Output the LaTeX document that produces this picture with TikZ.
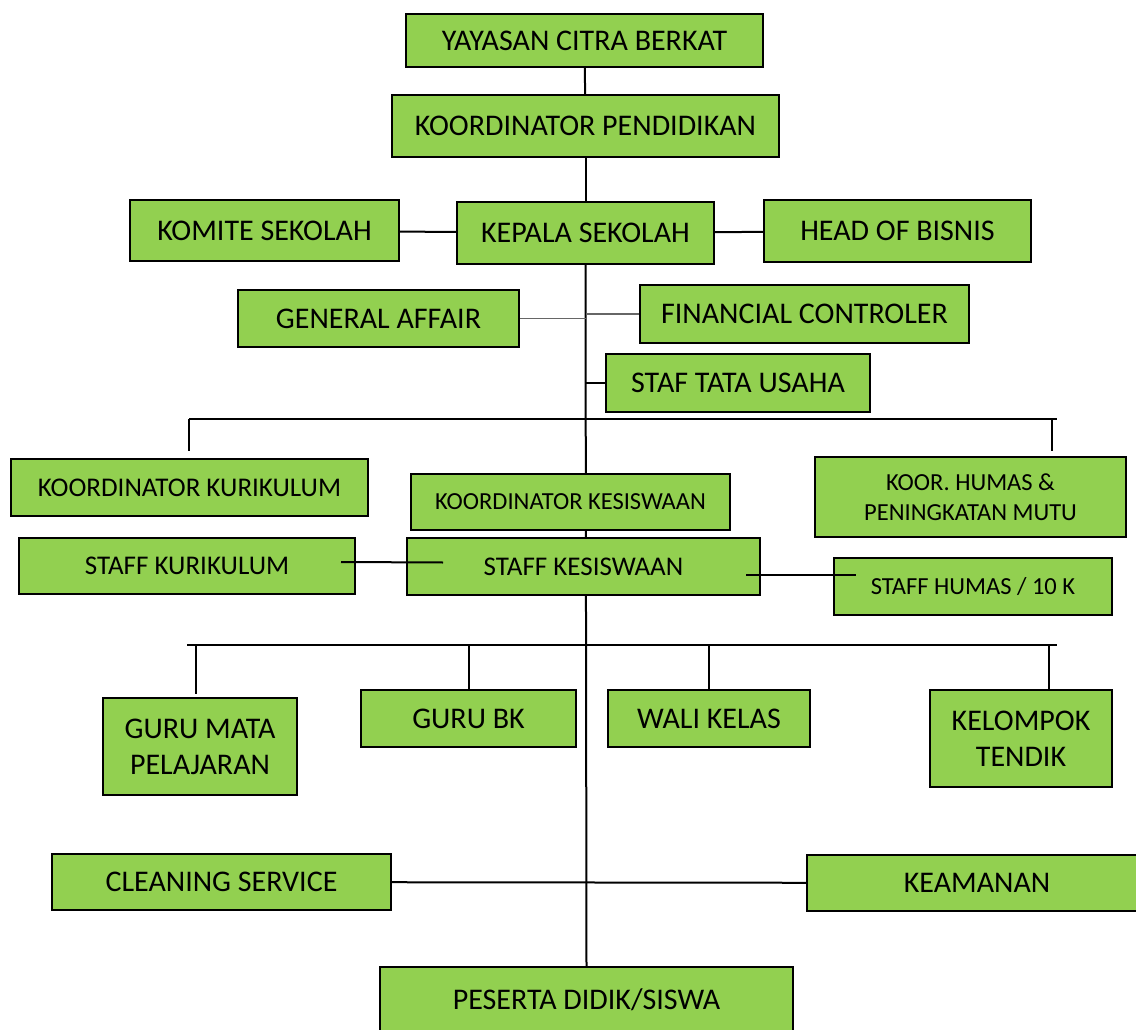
\documentclass[tikz,border=0pt]{standalone}
\usepackage{fontspec}
\setmainfont{Carlito}
\usepackage{tikz}
\usetikzlibrary{positioning,calc,backgrounds}
\definecolor{boxgreen}{HTML}{92D050}
\newcommand{\bigtxt}{\fontsize{30}{36}\selectfont}
\newcommand{\midtxt}{\fontsize{27}{32}\selectfont}
\newcommand{\smalltxt}{\fontsize{24.5}{30}\selectfont}

\begin{document}
\begin{tikzpicture}[
  x=1pt, y=-1pt,
  unit/.style={draw=black, fill=boxgreen, line width=2pt, align=center,
               inner sep=2pt, font=\bigtxt},
  link/.style={draw=black, line width=2pt},
  thin/.style={draw=gray!80!black, line width=1.5pt},
]
\useasboundingbox (0,0) rectangle (1136,1030);

% top of the chart
\node[unit, minimum width=357pt, minimum height=53pt] (yayasan) at (584.5,40.5) {YAYASAN CITRA BERKAT};
\node[unit, minimum width=387pt, minimum height=62pt] (kopend) at (585.5,126) {KOORDINATOR PENDIDIKAN};
\node[unit, minimum width=257pt, minimum height=62pt] (kepsek) at (585.5,233) {KEPALA SEKOLAH};
\node[unit, minimum width=269pt, minimum height=61pt] (komite) at (264.5,230.5) {KOMITE SEKOLAH};
\node[unit, minimum width=267pt, minimum height=62pt] (bisnis) at (897.5,231) {HEAD OF BISNIS};

% staff of the head
\node[unit, minimum width=281pt, minimum height=57pt] (ga) at (378.5,318.5) {GENERAL AFFAIR};
\node[unit, minimum width=329pt, minimum height=58pt] (fc) at (804.5,314) {FINANCIAL CONTROLER};
\node[unit, minimum width=264pt, minimum height=58pt] (tu) at (738,383) {STAF TATA USAHA};

% coordinators
\node[unit, font=\midtxt, minimum width=357pt, minimum height=57pt] (kkur) at (189.5,487.5) {KOORDINATOR KURIKULUM};
\node[unit, font={\fontsize{24.5}{30}\selectfont}, minimum width=319pt, minimum height=56pt] (kkes) at (570.5,502) {KOORDINATOR KESISWAAN};
\node[unit, font=\smalltxt, minimum width=311pt, minimum height=80pt] (khumas) at (970.5,497) {KOOR. HUMAS \&\\PENINGKATAN MUTU};
\node[unit, font=\midtxt, minimum width=336pt, minimum height=56pt] (skur) at (187,566) {STAFF KURIKULUM};
\node[unit, font=\midtxt, minimum width=353pt, minimum height=57pt] (skes) at (583.5,566.5) {STAFF KESISWAAN};
\node[unit, font=\smalltxt, minimum width=278pt, minimum height=57pt] (shumas) at (973,586.5) {STAFF HUMAS / 10 K};

% teachers
\node[unit, minimum width=194pt, minimum height=97pt] (gmp) at (200,746.5) {GURU MATA\\PELAJARAN};
\node[unit, minimum width=215pt, minimum height=57pt] (gbk) at (468.5,718.5) {GURU BK};
\node[unit, minimum width=202pt, minimum height=57pt] (wali) at (709,718.5) {WALI KELAS};
\node[unit, minimum width=182pt, minimum height=97pt] (tendik) at (1021,738.5) {KELOMPOK\\TENDIK};

% support and students
\node[unit, minimum width=339pt, minimum height=56pt] (cleaning) at (221.5,882) {CLEANING SERVICE};
\node[unit, minimum width=340pt, minimum height=56pt] (aman) at (977,883) {KEAMANAN};
\node[unit, minimum width=413pt, minimum height=66pt] (siswa) at (586.5,1000) {PESERTA DIDIK/SISWA};

\coordinate (busA) at (189,419);
\coordinate (busB) at (1057,419);
\coordinate (busC) at (187,645);
\coordinate (busD) at (1057,645);

\begin{scope}[on background layer]
\draw[link] (yayasan) -- (kopend);
\draw[link] (kopend) -- (kepsek);
\draw[link] (komite) -- (kepsek);
\draw[link] (kepsek) -- (bisnis);
\draw[link] (kepsek.south) -- (siswa.north);
\draw[thin] (ga.east) -- (ga.east -| kepsek.south);
\draw[thin] (fc.west) -- (fc.west -| kepsek.south);
\draw[link, line width=1.5pt] (tu.west) -- (tu.west -| kepsek.south);
% upper bus
\draw[link] (busA) -- (busB);
\draw[link, shorten >=7pt] (busA) -- (busA |- kkur.north);
\draw[link, shorten >=5pt] ([xshift=-5pt]busB) -- ([xshift=-5pt]busB |- khumas.north);
% lower bus
\draw[link] (busC) -- (busD);
\draw[link, shorten >=3pt] ([xshift=9pt]busC) -- ([xshift=9pt]busC |- gmp.north);
\draw[link] (gbk.north) -- (gbk.north |- busC);
\draw[link] (wali.north) -- (wali.north |- busC);
\draw[link] ([xshift=-8pt]busD |- tendik.north) -- ([xshift=-8pt]busD);
\draw[link] (cleaning) -- (aman);
\end{scope}

\draw[link] ([shift={(-15pt,4pt)}]skur.east) -- ([shift={(37pt,4pt)}]skes.west);
\draw[link] ([shift={(-15pt,-8.5pt)}]skes.east) -- ++(110,0);
\end{tikzpicture}
\end{document}
